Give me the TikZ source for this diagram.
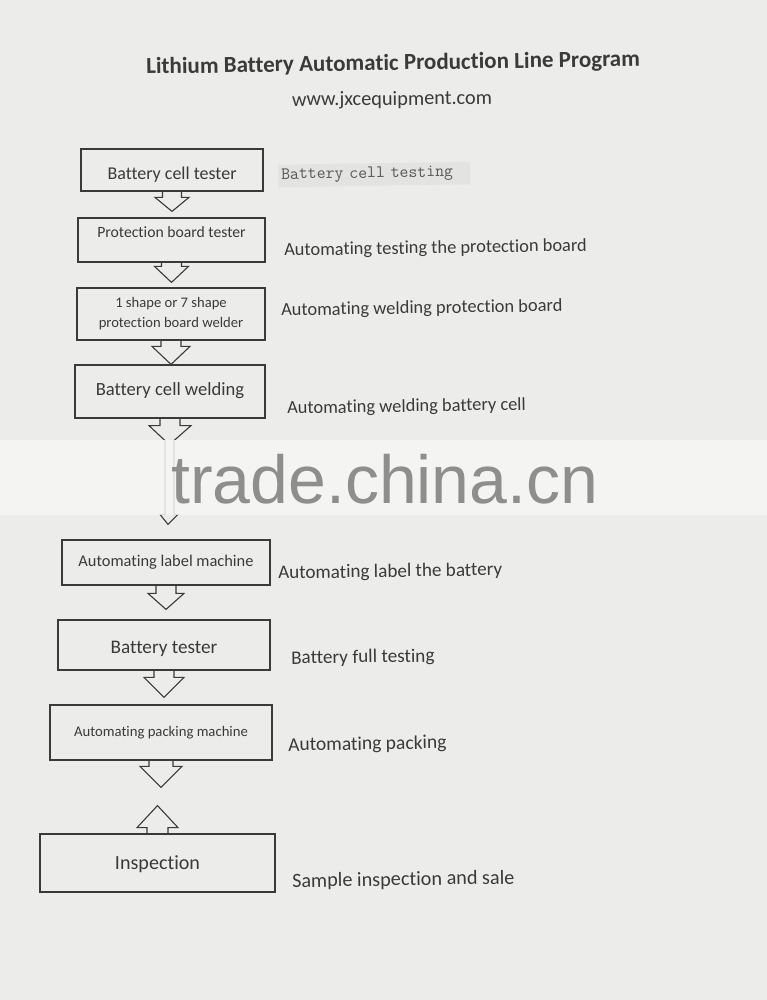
\documentclass[tikz,border=0pt]{standalone}
\usepackage{fontspec}
\setmainfont{Carlito}[Ligatures=NoCommon]
\newfontfamily\wmfont{Liberation Sans}
\usetikzlibrary{calc}
\definecolor{paper}{HTML}{ECECEA}
\definecolor{ink}{HTML}{3A3A3A}
\definecolor{band}{HTML}{F6F6F5}
\definecolor{wmark}{HTML}{8E8E8E}
\definecolor{hilite}{HTML}{E3E3E1}
% from, to, gap, stem half width, head half width, head length
\newcommand\blkdown[6]{%
  \draw[blk] let \p1=(#1.south), \p2=(#2.north) in
    ({\x1-#4pt},{\y1}) -- ({\x1-#4pt},{\y2+#3pt+#6pt}) -- ({\x1-#5pt},{\y2+#3pt+#6pt})
    -- ({\x1},{\y2+#3pt}) -- ({\x1+#5pt},{\y2+#3pt+#6pt}) -- ({\x1+#4pt},{\y2+#3pt+#6pt})
    -- ({\x1+#4pt},{\y1});}
\newcommand\blkup[6]{%
  \draw[blk] let \p1=(#1.north), \p2=(#2.south) in
    ({\x1-#4pt},{\y1}) -- ({\x1-#4pt},{\y2-#3pt-#6pt}) -- ({\x1-#5pt},{\y2-#3pt-#6pt})
    -- ({\x1},{\y2-#3pt}) -- ({\x1+#5pt},{\y2-#3pt-#6pt}) -- ({\x1+#4pt},{\y2-#3pt-#6pt})
    -- ({\x1+#4pt},{\y1});}
\begin{document}
\begin{tikzpicture}[x=1pt,y=-1pt,
  box/.style={draw=ink, line width=1.2pt, rectangle, inner sep=3pt, text=ink},
  blk/.style={draw=ink, line width=1.1pt, line join=miter},
  side/.style={anchor=west, inner sep=0pt, text=ink, font=\fontsize{18.4}{20}\selectfont, rotate=0.9}]
\useasboundingbox (0,0) rectangle (767,1000);
\fill[paper] (0,0) rectangle (767,1000);

% title
\node[text=ink, font=\bfseries\fontsize{23}{26}\selectfont, rotate=0.9] (title) at (393,64) {Lithium Battery Automatic Production Line Program};
\node[text=ink, font=\fontsize{20.3}{22}\selectfont, rotate=0.5] (url) at (392,100) {www.jxcequipment.com};

% boxes
\node[box, minimum width=182pt, minimum height=42pt, font=\fontsize{18}{20}\selectfont, text height=18.4pt, text depth=0pt] (cell) at (172,170) {Battery cell tester};
\node[box, minimum width=187pt, minimum height=44pt, font=\fontsize{15.7}{18}\selectfont, text height=0pt, text depth=4.6pt] (prot) at (171.5,240) {Protection board tester};
\node[box, minimum width=188pt, minimum height=52pt, font=\fontsize{14.6}{20}\selectfont, align=center] (weld) at (171,314) {1 shape or 7 shape\\protection board welder};
\node[box, minimum width=190pt, minimum height=53pt, font=\fontsize{18.6}{20}\selectfont, text height=7.6pt, text depth=0pt] (cellweld) at (170,391.5) {Battery cell welding};
\node[box, minimum width=208pt, minimum height=45pt, font=\fontsize{16.4}{18}\selectfont, text height=8.6pt, text depth=0pt] (label) at (166,562.5) {Automating label machine};
\node[box, minimum width=212pt, minimum height=50pt, font=\fontsize{19.2}{21}\selectfont, text height=17pt, text depth=0pt] (tester) at (164,645) {Battery tester};
\node[box, minimum width=222pt, minimum height=55pt, font=\fontsize{14.7}{17}\selectfont, text height=7.8pt, text depth=0pt] (pack) at (161,732.5) {Automating packing machine};
\node[box, minimum width=235pt, minimum height=58pt, font=\fontsize{20.1}{22}\selectfont, text height=13.4pt, text depth=0pt] (insp) at (157.5,863) {Inspection};

% block arrows
\blkdown{cell}{prot}{6}{9.5}{17}{14}
\blkdown{prot}{weld}{5}{10}{17}{16}
\blkdown{weld}{cellweld}{0}{10}{19}{18}
\blkdown{label}{tester}{10}{10}{18}{16}
\blkdown{tester}{pack}{7}{10}{20}{20}
\blkdown{pack}{insp}{46}{12}{21}{21}
\blkup{insp}{pack}{45}{10.5}{20.5}{22}

% arrow through the watermark band
\draw[blk] let \p1=(cellweld.south), \p2=(label.north) in
  ({\x1-10pt},{\y1}) -- ({\x1-10pt},{\y1-7pt}) -- ({\x1-21pt},{\y1-7pt})
  -- ({\x1-5pt},{\y1-22pt}) -- ({\x1-5pt},{\y2+25pt}) -- ({\x1-10pt},{\y2+25pt})
  -- ({\x1-2pt},{\y2+15pt}) -- ({\x1+8pt},{\y2+25pt}) -- ({\x1+4pt},{\y2+25pt})
  -- ({\x1+4pt},{\y1-22pt}) -- ({\x1+21pt},{\y1-7pt}) -- ({\x1+10pt},{\y1-7pt})
  -- ({\x1+10pt},{\y1});

% watermark band
\fill[band, opacity=0.85] (0,440) rectangle (767,515);
\node[anchor=base west, inner sep=0pt, text=wmark, font=\wmfont\fontsize{68}{70}\selectfont] (wm) at (171,503) {trade.china.cn};

% side descriptions
\node[side, fill=hilite, text=ink!85, inner xsep=3pt, inner ysep=4pt, font=\ttfamily\fontsize{17.3}{19}\selectfont, minimum width=192pt, align=left, text width=186pt] (d1) at (278,176) {Battery cell testing};
\node[side] (d2) at (284,251) {Automating testing the protection board};
\node[side] (d3) at (281,311) {Automating welding protection board};
\node[side] (d4) at (287,409) {Automating welding battery cell};
\node[side, font=\fontsize{19.1}{21}\selectfont] (d5) at (278,574) {Automating label the battery};
\node[side, font=\fontsize{19.2}{21}\selectfont] (d6) at (291,659) {Battery full testing};
\node[side, font=\fontsize{19.5}{21}\selectfont] (d7) at (288,746) {Automating packing};
\node[side, font=\fontsize{20.2}{22}\selectfont] (d8) at (292,882) {Sample inspection and sale};
\end{tikzpicture}
\end{document}
